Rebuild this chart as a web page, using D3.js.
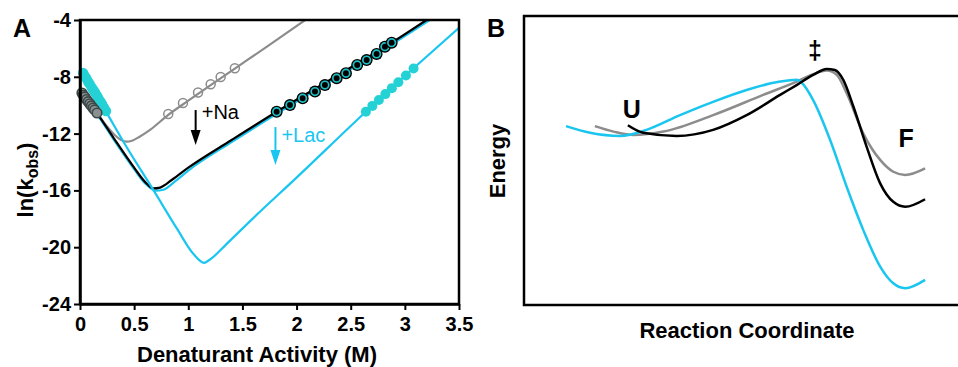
<!DOCTYPE html>
<html>
<head>
<meta charset="utf-8">
<script src="https://cdn.jsdelivr.net/npm/d3@7"></script>
<style>
  body { margin: 0; background: #fff; }
  svg { display: block; font-family: "Liberation Sans", Arial, sans-serif; }
</style>
</head>
<body>
<svg id="chart" width="958" height="367"></svg>
<script>
// ---- panel A: chevron data ----
var xTicks = [0, 0.5, 1, 1.5, 2, 2.5, 3, 3.5];
var yTicks = [-24, -20, -16, -12, -8, -4];

// fitted curves [activity, ln(kobs)]
var grayFit = [[0,-8.95],[0.157,-10.55],[0.25,-11.5],[0.32,-12.1],[0.38,-12.45],[0.43,-12.57],[0.48,-12.5],[0.55,-12.22],[0.65,-11.72],[0.815,-10.68],[1.0,-9.68],[1.2,-8.62],[1.43,-7.42],[1.75,-5.75],[2.08,-4.0]];
var blackFit = [[0,-8.95],[0.157,-10.55],[0.31,-12.3],[0.5,-14.4],[0.6,-15.4],[0.677,-15.86],[0.74,-15.8],[0.85,-15.25],[1.0,-14.4],[1.4,-12.45],[1.816,-10.46],[2.3,-8.25],[2.878,-5.6],[3.2,-4.0]];
var cyanNaFit = [[0,-9.0],[0.157,-10.62],[0.31,-12.4],[0.5,-14.5],[0.6,-15.5],[0.7,-16.02],[0.77,-15.95],[0.88,-15.35],[1.0,-14.6],[1.4,-12.6],[1.816,-10.6],[2.3,-8.38],[2.878,-5.72],[3.23,-4.0]];
var cyanLacFit = [[0,-7.4],[0.24,-10.45],[0.415,-12.75],[0.68,-16.0],[0.9,-18.75],[1.05,-20.5],[1.145,-21.1],[1.22,-20.75],[1.35,-19.8],[1.6,-17.95],[2.0,-15.1],[2.64,-10.46],[3.08,-7.4],[3.5,-4.55]];

// measured points
var grayBlob = [[0.018,-9.14],[0.03,-9.3],[0.045,-9.42],[0.06,-9.6],[0.075,-9.75],[0.09,-9.9],[0.105,-10.05],[0.12,-10.2],[0.135,-10.33],[0.157,-10.55]];
var grayOpen = [[0.815,-10.62],[0.951,-9.85],[1.09,-9.1],[1.207,-8.52],[1.299,-8.02],[1.43,-7.4]];
var cyanBlob = [[0.028,-7.73],[0.04,-7.9],[0.058,-8.1],[0.075,-8.35],[0.09,-8.52],[0.108,-8.75],[0.125,-8.95],[0.14,-9.12],[0.158,-9.35],[0.172,-9.55],[0.19,-9.75],[0.205,-9.95],[0.222,-10.18],[0.24,-10.41]];
var blackPts = [[1.816,-10.46],[1.939,-9.99],[2.056,-9.51],[2.17,-9.04],[2.262,-8.58],[2.37,-8.1],[2.456,-7.75],[2.56,-7.17],[2.647,-6.82],[2.739,-6.39],[2.816,-5.88],[2.878,-5.6]];
var cyanLacPts = [[2.64,-10.46],[2.7,-10.05],[2.76,-9.63],[2.82,-9.22],[2.88,-8.8],[2.94,-8.39],[3.01,-7.91],[3.08,-7.42]];

// arrows: [x, yFrom, yTo], labels: [x, y, text]
var naArrow = [1.068, -10.34, -12.8];
var lacArrow = [1.805, -11.54, -14.21];
var naLabel = [1.124, -10.97, "+Na"];
var lacLabel = [1.86, -12.6, "+Lac"];

// ---- panel B: energy landscapes [reaction coordinate, energy] ----
var cyanEnergy = [[9.9,61.9],[15.6,59.6],[22.6,58.5],[28.9,60.6],[36.8,65.7],[44.6,70.3],[52.5,74.4],[60.4,77.3],[64.3,77.9],[65.5,76.9],[68.2,70.9],[72.2,57.1],[76.1,40.9],[80.0,26.0],[84.0,13.3],[87.1,7.5],[89.9,5.8],[94.6,8.7]];
var grayEnergy = [[16.7,61.9],[21.1,60.0],[25.8,58.8],[32.9,60.0],[44.6,65.7],[56.4,72.7],[64.3,77.3],[68.2,79.9],[71.4,81.1],[73.8,79.6],[76.1,73.3],[80.0,59.4],[84.0,50.2],[87.1,46.1],[89.9,45.0],[94.6,47.3]];
var blackEnergy = [[24.5,62.2],[28.1,59.6],[36.0,58.5],[44.6,60.6],[52.5,65.7],[60.4,72.7],[64.3,76.1],[68.2,79.6],[71.4,81.7],[73.3,81.3],[75.3,77.9],[77.7,68.6],[80.8,54.8],[84.0,42.1],[87.1,35.7],[89.9,34.0],[94.6,36.6]];
var stateLabels = [[25.4,64.7,"U"],[68.6,85.1,"\u2021"],[90.1,54.7,"F"]];

var CYAN = "#1ac6f0";
var CYAN_PT = "#24d2d6";
var GRAY = "#8c8c8c";

var svg = d3.select("#chart");

function drawPanelA() {
    var x = d3.scaleLinear().domain([0, 3.5]).range([80, 459]);
    var y = d3.scaleLinear().domain([-24, -4]).range([304, 20]);

    svg.append("clipPath").attr("id", "clipA")
        .append("rect")
        .attr("x", x(0)).attr("y", y(-4))
        .attr("width", x(3.5) - x(0)).attr("height", y(-24) - y(-4));

    var line = d3.line()
        .x(function (d) { return x(d[0]); })
        .y(function (d) { return y(d[1]); })
        .curve(d3.curveMonotoneX);

    var g = svg.append("g").attr("clip-path", "url(#clipA)");

    [[grayFit, GRAY, 2.2], [cyanNaFit, CYAN, 2.2], [blackFit, "#000", 2.2], [cyanLacFit, CYAN, 2.2]]
        .forEach(function (s) {
            g.append("path")
                .datum(s[0])
                .attr("d", line)
                .attr("fill", "none")
                .attr("stroke", s[1])
                .attr("stroke-width", s[2]);
        });

    // markers
    var m = svg.append("g");
    m.selectAll(".gopen").data(grayOpen).enter().append("circle")
        .attr("cx", function (d) { return x(d[0]); })
        .attr("cy", function (d) { return y(d[1]); })
        .attr("r", 4.5)
        .attr("fill", "none").attr("stroke", GRAY).attr("stroke-width", 1.5);

    m.selectAll(".cblob").data(cyanBlob).enter().append("circle")
        .attr("cx", function (d) { return x(d[0]); })
        .attr("cy", function (d) { return y(d[1]); })
        .attr("r", 5.2)
        .attr("fill", CYAN_PT);

    m.selectAll(".gblob").data(grayBlob).enter().append("circle")
        .attr("cx", function (d) { return x(d[0]); })
        .attr("cy", function (d) { return y(d[1]); })
        .attr("r", 4.8)
        .attr("fill", "#8a9090").attr("stroke", "#3c4848").attr("stroke-width", 1.6);

    m.selectAll(".lacpt").data(cyanLacPts).enter().append("circle")
        .attr("cx", function (d) { return x(d[0]); })
        .attr("cy", function (d) { return y(d[1]); })
        .attr("r", 5)
        .attr("fill", CYAN_PT);

    var bp = m.selectAll(".bpt").data(blackPts).enter().append("g");
    bp.append("circle")
        .attr("cx", function (d) { return x(d[0]); })
        .attr("cy", function (d) { return y(d[1]); })
        .attr("r", 6).attr("fill", "#000");
    bp.append("circle")
        .attr("cx", function (d) { return x(d[0]); })
        .attr("cy", function (d) { return y(d[1]); })
        .attr("r", 3.8).attr("fill", "#000")
        .attr("stroke", "#1fc0c4").attr("stroke-width", 1.7);

    // frame + axes
    svg.append("rect")
        .attr("x", x(0)).attr("y", y(-4))
        .attr("width", x(3.5) - x(0)).attr("height", y(-24) - y(-4))
        .attr("fill", "none").attr("stroke", "#000").attr("stroke-width", 2.5);

    var gx = svg.append("g")
        .attr("transform", "translate(0," + y(-24) + ")")
        .call(d3.axisBottom(x).tickValues(xTicks).tickSize(6).tickSizeOuter(0).tickPadding(7)
            .tickFormat(function (d) { return String(d); }));
    var gy = svg.append("g")
        .attr("transform", "translate(" + x(0) + ",0)")
        .call(d3.axisLeft(y).tickValues(yTicks).tickSize(6).tickSizeOuter(0).tickPadding(3)
            .tickFormat(function (d) { return String(d); }));

    [gx, gy].forEach(function (a) {
        a.select(".domain").attr("stroke-width", 2.5);
        a.selectAll(".tick line").attr("stroke-width", 2);
        a.selectAll("text")
            .attr("fill", "#000")
            .style("font-size", "20px")
            .style("font-weight", "bold")
            .style("font-family", '"Liberation Sans", Arial, sans-serif');
    });

    // arrows
    [[naArrow, "#000"], [lacArrow, CYAN]].forEach(function (a) {
        var d = a[0], ax = x(d[0]), y0 = y(d[1]), y1 = y(d[2]);
        svg.append("line")
            .attr("x1", ax).attr("x2", ax)
            .attr("y1", y0).attr("y2", y1 - 12)
            .attr("stroke", a[1]).attr("stroke-width", 2);
        svg.append("path")
            .attr("d", "M" + (ax - 5) + "," + (y1 - 15) + "L" + (ax + 5) + "," + (y1 - 15) + "L" + ax + "," + y1 + "Z")
            .attr("fill", a[1]);
    });
    svg.append("text")
        .attr("x", x(naLabel[0])).attr("y", y(naLabel[1]))
        .style("font-size", "20px").attr("fill", "#000")
        .text(naLabel[2]);
    svg.append("text")
        .attr("x", x(lacLabel[0])).attr("y", y(lacLabel[1]))
        .style("font-size", "20px").attr("fill", CYAN)
        .text(lacLabel[2]);

    // titles
    svg.append("text")
        .attr("x", 13).attr("y", 37)
        .style("font-size", "25px").style("font-weight", "bold")
        .text("A");

    svg.append("text")
        .attr("x", 257).attr("y", 362)
        .attr("text-anchor", "middle")
        .style("font-size", "22px").style("font-weight", "bold")
        .text("Denaturant Activity (M)");

    var yl = svg.append("text")
        .attr("transform", "translate(33,180) rotate(-90)")
        .attr("text-anchor", "middle")
        .style("font-size", "22px").style("font-weight", "bold");
    yl.append("tspan").text("ln(k");
    yl.append("tspan").attr("dy", 5).style("font-size", "16px").text("obs");
    yl.append("tspan").attr("dy", -5).text(")");
}

function drawPanelB() {
    var x = d3.scaleLinear().domain([0, 100]).range([524, 948]);
    var y = d3.scaleLinear().domain([0, 100]).range([305, 16]);

    svg.append("rect")
        .attr("x", 524).attr("y", 16)
        .attr("width", 450).attr("height", 289)
        .attr("fill", "none").attr("stroke", "#000").attr("stroke-width", 2.5);

    var line = d3.line()
        .x(function (d) { return x(d[0]); })
        .y(function (d) { return y(d[1]); })
        .curve(d3.curveMonotoneX);

    [[grayEnergy, GRAY], [cyanEnergy, CYAN], [blackEnergy, "#000"]].forEach(function (s) {
        svg.append("path")
            .datum(s[0])
            .attr("d", line)
            .attr("fill", "none")
            .attr("stroke", s[1])
            .attr("stroke-width", 2.5);
    });

    svg.selectAll(".state").data(stateLabels).enter().append("text")
        .attr("x", function (d) { return x(d[0]); })
        .attr("y", function (d) { return y(d[1]); })
        .attr("text-anchor", "middle")
        .style("font-size", "25px").style("font-weight", "bold")
        .text(function (d) { return d[2]; });

    svg.append("text")
        .attr("x", 487).attr("y", 37)
        .style("font-size", "25px").style("font-weight", "bold")
        .text("B");

    svg.append("text")
        .attr("x", 747).attr("y", 338)
        .attr("text-anchor", "middle")
        .style("font-size", "22px").style("font-weight", "bold")
        .text("Reaction Coordinate");

    svg.append("text")
        .attr("transform", "translate(505,161) rotate(-90)")
        .attr("text-anchor", "middle")
        .style("font-size", "22px").style("font-weight", "bold")
        .text("Energy");
}

drawPanelA();
drawPanelB();
</script>
</body>
</html>
